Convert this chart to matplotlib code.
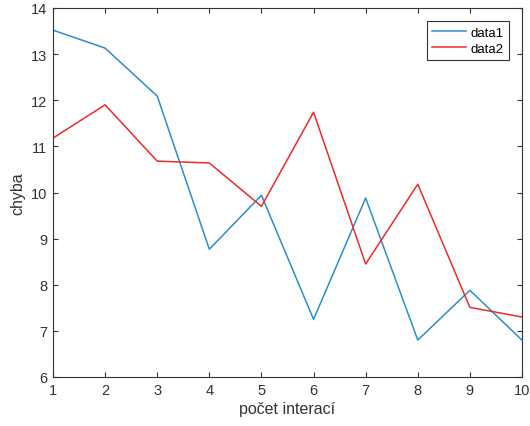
import matplotlib
matplotlib.use('Agg')
import matplotlib.pyplot as plt

plt.rcParams['font.family'] = ['Liberation Sans', 'DejaVu Sans']

x = [1, 2, 3, 4, 5, 6, 7, 8, 9, 10]
data1 = [13.52, 13.13, 12.09, 8.77, 9.94, 7.25, 9.88, 6.80, 7.88, 6.80]
data2 = [11.18, 11.90, 10.68, 10.64, 9.70, 11.74, 8.45, 10.18, 7.51, 7.30]

fig = plt.figure(figsize=(5.30, 4.27), dpi=100)
ax = fig.add_axes([53/530, 1 - 378/427, (522-53)/530, (378-9)/427])

ax.plot(x, data1, color='#2a8fca', lw=1.1, label='data1')
ax.plot(x, data2, color='#ee2a2a', lw=1.1, label='data2')

ax.set_xlim(1, 10)
ax.set_ylim(6, 14)
ax.set_xticks(x)
ax.set_yticks(range(6, 15))
ax.tick_params(direction='in', top=True, right=True, labelsize=10.5,
               length=3.5, width=0.8, colors='#333333', pad=4)
for s in ax.spines.values():
    s.set_color('#333333')
    s.set_linewidth(0.8)

ax.set_xlabel('počet interací', fontsize=11.5, color='#333333', labelpad=3)
ax.set_ylabel('chyba', fontsize=11.5, color='#333333', labelpad=4)

leg = ax.legend(loc='upper right', fontsize=9.5, fancybox=False, framealpha=1,
                edgecolor='#333333', borderaxespad=1.0, handlelength=2.6,
                handletextpad=0.3, borderpad=0.4, labelspacing=0.3)
leg.get_frame().set_linewidth(0.8)

fig.savefig('out.png', dpi=100)
